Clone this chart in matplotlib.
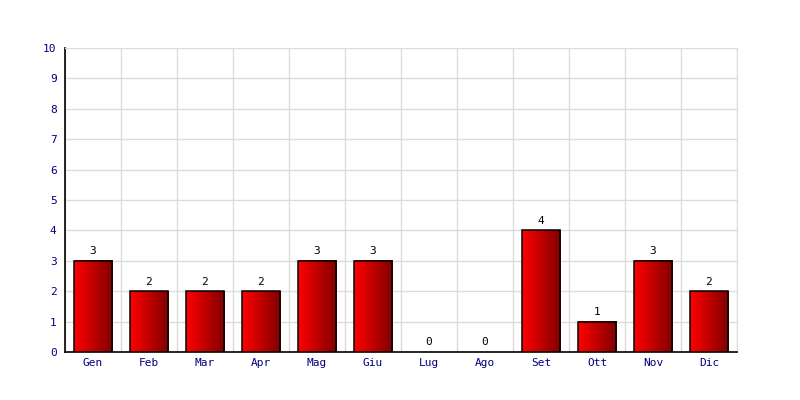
import matplotlib
matplotlib.use("Agg")
import matplotlib.pyplot as plt
import numpy as np
from matplotlib.patches import Rectangle
from matplotlib.colors import LinearSegmentedColormap

months = ["Gen", "Feb", "Mar", "Apr", "Mag", "Giu", "Lug", "Ago", "Set", "Ott", "Nov", "Dic"]
values = [3, 2, 2, 2, 3, 3, 0, 0, 4, 1, 3, 2]
yticks = list(range(0, 11))

fig = plt.figure(figsize=(8, 4), dpi=100)
ax = fig.add_axes([65/800, 1-352/400, 672/800, 304/400])
n = len(months)

grad = np.linspace(0, 1, 256).reshape(1, -1)
cmap = LinearSegmentedColormap.from_list("rg", ["#ff0000", "#800000"])
bw = 0.68
for i, v in enumerate(values):
    x0 = i + 0.5 - bw/2
    if v > 0:
        ax.imshow(grad, extent=[x0, x0+bw, 0, v], aspect="auto", cmap=cmap, zorder=3, interpolation="bilinear")
        ax.add_patch(Rectangle((x0, 0), bw, v, fill=False, edgecolor="black", linewidth=1.1, zorder=4))
    ax.text(i + 0.5, v + 0.15, str(v), ha="center", va="bottom", fontsize=8,
            family="DejaVu Sans Mono", color="black", zorder=5)

ax.set_xlim(0, n)
ax.set_ylim(0, 10)
ax.set_xticks([i + 0.5 for i in range(n)])
ax.set_xticklabels(months)
ax.set_xticks(range(n + 1), minor=True)
ax.set_yticks(yticks)
ax.tick_params(axis="both", which="both", length=0, labelsize=8, labelcolor="#000080")
ax.tick_params(axis="y", pad=6)
ax.tick_params(axis="x", pad=4)
for lbl in ax.get_xticklabels() + ax.get_yticklabels():
    lbl.set_family("DejaVu Sans Mono")
ax.grid(True, which="minor", axis="x", color="#dcdcdc", linewidth=1, zorder=0)
ax.grid(True, which="major", axis="y", color="#dcdcdc", linewidth=1, zorder=0)
ax.set_axisbelow(True)
for s in ["top", "right"]:
    ax.spines[s].set_color("#dcdcdc")
for s in ["left", "bottom"]:
    ax.spines[s].set_color("black")
    ax.spines[s].set_linewidth(1.2)

fig.savefig("out.png", dpi=100)
